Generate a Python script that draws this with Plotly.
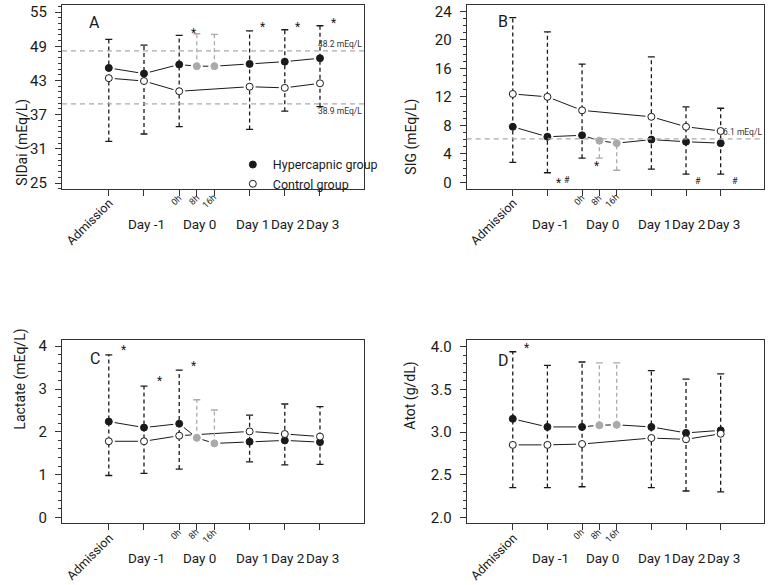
import plotly.graph_objects as go

# time points: Admission, Day -1, Day 0 (0h, 8h, 16h), Day 1, Day 2, Day 3
pos_x = [0, 1, 2, 2.5, 3, 4, 5, 6]
gray_idx = [3, 4]  # 8h and 16h, hypercapnic only

# A - SIDai (mEq/L)
sidai_hyp = [45.2, 44.2, 45.8, 45.5, 45.5, 45.9, 46.3, 46.9]
sidai_ctl = [43.4, 42.9, 41.1, None, None, 41.9, 41.7, 42.5]
sidai_hi = [50.2, 49.2, 50.9, 51.2, 51.1, 51.7, 51.9, 52.6]
sidai_lo = [32.3, 33.6, 34.9, 45.5, 45.5, 34.4, 37.6, 38.4]
sidai_ref = [48.2, 38.9]

# B - SIG (mEq/L)
sig_hyp = [7.8, 6.4, 6.6, 5.85, 5.5, 6.0, 5.7, 5.5]
sig_ctl = [12.4, 12.0, 10.1, None, None, 9.2, 7.8, 7.2]
sig_hi = [23.1, 21.1, 16.6, 5.85, 5.5, 17.6, 10.6, 10.4]
sig_lo = [2.8, 1.35, 3.4, 3.4, 1.7, 1.85, 1.15, 1.15]
sig_ref = [6.1]

# C - Lactate (mEq/L)
lac_hyp = [2.24, 2.10, 2.19, 1.86, 1.73, 1.77, 1.80, 1.76]
lac_ctl = [1.78, 1.78, 1.91, None, None, 2.01, 1.95, 1.89]
lac_hi = [3.80, 3.07, 3.44, 2.75, 2.51, 2.39, 2.65, 2.59]
lac_lo = [0.98, 1.03, 1.13, 1.86, 1.73, 1.30, 1.23, 1.24]

# D - Atot (g/dL)
atot_hyp = [3.155, 3.06, 3.06, 3.08, 3.085, 3.06, 2.99, 3.02]
atot_ctl = [2.85, 2.85, 2.86, None, None, 2.93, 2.915, 2.98]
atot_hi = [3.94, 3.78, 3.82, 3.81, 3.81, 3.72, 3.62, 3.68]
atot_lo = [2.35, 2.35, 2.36, 3.08, 3.085, 2.35, 2.31, 2.30]

# significance marks (symbol, x, y)
marks_a = [("*", 2.4, 51.8), ("*", 4.38, 52.9), ("*", 5.37, 52.9), ("*", 6.38, 53.6)]
marks_b = [("*", 1.31, 0.33), ("#", 1.57, 0.33), ("*", 2.41, 2.65),
           ("#", 5.36, 0.19), ("#", 6.42, 0.19)]
marks_c = [("*", 0.42, 3.98), ("*", 1.43, 3.26), ("*", 2.4, 3.6)]
marks_d = [("*", 0.4, 4.02)]

day_labels = ["Day -1", "Day 0", "Day 1", "Day 2", "Day 3"]
day_label_x = [1, 2.5, 4, 5, 6]
hour_labels = ["0h", "8h", "16h"]
hour_label_x = [2, 2.5, 3]

FONT = "Roboto, Arial, sans-serif"
INK = "#1a1a1a"
GRAY = "#aaaaaa"

fig = go.Figure()


def add_panel(n, letter, title, hyp, ctl, hi, lo, marks, refs, yrange, tick0, dtick, minor,
              letter_xy, title_x, legend=False, ref_below=None):
    xa = "x" if n == 1 else "x%d" % n
    ya = "y" if n == 1 else "y%d" % n
    main_idx = [i for i in range(len(pos_x)) if i not in gray_idx]

    # connecting lines
    fig.add_trace(go.Scatter(x=pos_x, y=hyp, mode="lines", line=dict(color=INK, width=1),
                             xaxis=xa, yaxis=ya, showlegend=False, hoverinfo="skip"))
    fig.add_trace(go.Scatter(x=pos_x, y=ctl, mode="lines", connectgaps=True,
                             line=dict(color=INK, width=1),
                             xaxis=xa, yaxis=ya, showlegend=False, hoverinfo="skip"))
    # white halo so lines stop short of the points
    halo_x = pos_x + [pos_x[i] for i in range(len(pos_x)) if ctl[i] is not None]
    halo_y = hyp + [c for c in ctl if c is not None]
    fig.add_trace(go.Scatter(x=halo_x, y=halo_y, mode="markers",
                             marker=dict(color="white", size=12),
                             xaxis=xa, yaxis=ya, showlegend=False, hoverinfo="skip"))

    # whiskers
    for idx, col in ((main_idx, INK), (gray_idx, GRAY)):
        wx, wy = [], []
        for i in idx:
            wx += [pos_x[i], pos_x[i], None]
            wy += [lo[i], hi[i], None]
        fig.add_trace(go.Scatter(x=wx, y=wy, mode="lines",
                                 line=dict(color=col, width=1.3, dash="4px,3px"),
                                 xaxis=xa, yaxis=ya, showlegend=False, hoverinfo="skip"))
        cx, cy = [], []
        for i in idx:
            for v in (lo[i], hi[i]):
                if v != hyp[i]:
                    cx.append(pos_x[i])
                    cy.append(v)
        fig.add_trace(go.Scatter(x=cx, y=cy, mode="markers",
                                 marker=dict(symbol="line-ew", size=5,
                                             line=dict(color=col, width=1.3)),
                                 xaxis=xa, yaxis=ya, showlegend=False, hoverinfo="skip"))

    # points
    fig.add_trace(go.Scatter(x=[pos_x[i] for i in main_idx], y=[hyp[i] for i in main_idx],
                             mode="markers", name="Hypercapnic group",
                             marker=dict(color=INK, size=7, line=dict(color=INK, width=1)),
                             xaxis=xa, yaxis=ya, showlegend=legend))
    fig.add_trace(go.Scatter(x=[pos_x[i] for i in gray_idx], y=[hyp[i] for i in gray_idx],
                             mode="markers",
                             marker=dict(color=GRAY, size=7, line=dict(color=GRAY, width=1)),
                             xaxis=xa, yaxis=ya, showlegend=False))
    fig.add_trace(go.Scatter(x=pos_x, y=ctl, mode="markers", name="Control group",
                             marker=dict(color="white", size=7, line=dict(color=INK, width=1)),
                             xaxis=xa, yaxis=ya, showlegend=legend))

    # reference lines
    for k, r in enumerate(refs):
        fig.add_shape(type="line", xref=xa + " domain", yref=ya, x0=0, x1=1, y0=r, y1=r,
                      line=dict(color=GRAY, width=1.3, dash="5px,4px"))
        below = ref_below is not None and k in ref_below
        fig.add_annotation(x=1, xref=xa + " domain", y=r, yref=ya, xanchor="right",
                           yanchor="top" if below else "bottom", xshift=0,
                           text="%.1f mEq/L" % r, showarrow=False,
                           font=dict(family=FONT, size=8.5, color="#333"))

    # significance marks
    for s, mx, my in marks:
        fig.add_annotation(x=mx, y=my, xref=xa, yref=ya, text=s, showarrow=False,
                           yshift=-3 if s == "*" else 0,
                           font=dict(family=FONT, size=12 if s == "*" else 9, color=INK))

    # panel letter
    fig.add_annotation(x=letter_xy[0], y=letter_xy[1], xref=xa, yref=ya, text=letter,
                       showarrow=False, font=dict(family=FONT, size=16, color=INK))

    # x labels
    fig.add_annotation(x=pos_x[0], y=0, xref=xa, yref=ya + " domain", text="Admission",
                       textangle=-45, xanchor="right", yanchor="top", xshift=10, yshift=-4,
                       showarrow=False, font=dict(family=FONT, size=12.5, color=INK))
    for t, hx in zip(hour_labels, hour_label_x):
        fig.add_annotation(x=hx, y=0, xref=xa, yref=ya + " domain", text=t,
                           textangle=-45, xanchor="right", yanchor="top", xshift=7, yshift=-1,
                           showarrow=False, font=dict(family=FONT, size=9, color=INK))
    for t, dx in zip(day_labels, day_label_x):
        fig.add_annotation(x=dx, y=0, xref=xa, yref=ya + " domain", text=t,
                           xanchor="center", yanchor="middle", xshift=3, yshift=-35,
                           showarrow=False, font=dict(family=FONT, size=13.5, color=INK))

    # y title
    dom = fig.layout[("yaxis" if n == 1 else "yaxis%d" % n)].domain
    fig.add_annotation(x=title_x / 771, y=(dom[0] + dom[1]) / 2, xref="paper", yref="paper",
                       text=title, textangle=-90, showarrow=False,
                       font=dict(family=FONT, size=14, color=INK))

    axis_common = dict(showline=True, linecolor="#333", linewidth=1, mirror=True,
                       showgrid=False, zeroline=False, ticks="outside", ticklen=6,
                       tickcolor="#333", tickwidth=1, fixedrange=True)
    fig.update_layout({
        ("xaxis" if n == 1 else "xaxis%d" % n): dict(
            range=[-1.33, 7.25], tickvals=pos_x, ticktext=[""] * len(pos_x),
            **axis_common),
        ("yaxis" if n == 1 else "yaxis%d" % n): dict(
            range=yrange, dtick=dtick, tick0=tick0,
            tickformat=".1f" if dtick < 1 else "d",
            ticklabelstandoff=5,
            tickfont=dict(family=FONT, size=15, color=INK),
            minor=dict(dtick=minor, tick0=tick0, ticklen=3, ticks="outside",
                       tickcolor="#333"),
            **axis_common),
    })


fig.update_layout(
    width=771, height=585, margin=dict(l=0, r=0, t=0, b=0),
    paper_bgcolor="white", plot_bgcolor="white",
    xaxis=dict(domain=[0.0804, 0.4721], anchor="y"),
    yaxis=dict(domain=[0.6781, 0.9954], anchor="x"),
    xaxis2=dict(domain=[0.6053, 0.9909], anchor="y2"),
    yaxis2=dict(domain=[0.6781, 0.9954], anchor="x2"),
    xaxis3=dict(domain=[0.0804, 0.4721], anchor="y3"),
    yaxis3=dict(domain=[0.1009, 0.4176], anchor="x3"),
    xaxis4=dict(domain=[0.6053, 0.9909], anchor="y4"),
    yaxis4=dict(domain=[0.1009, 0.4176], anchor="x4"),
    legend=dict(x=0.302, y=0.745, xanchor="left", yanchor="top", bgcolor="rgba(0,0,0,0)",
                font=dict(family=FONT, size=12.5, color=INK), tracegroupgap=0,
                itemwidth=30),
    font=dict(family=FONT),
)

add_panel(1, "A", "SIDai (mEq/L)", sidai_hyp, sidai_ctl, sidai_hi, sidai_lo, marks_a,
          sidai_ref, [24.0, 56.3], 25, 6, 1, (-0.41, 53.1), 12, legend=True, ref_below=[1])
add_panel(2, "B", "SIG (mEq/L)", sig_hyp, sig_ctl, sig_hi, sig_lo, marks_b,
          sig_ref, [-0.89, 24.93], 0, 4, 1, (-0.27, 22.5), 412)
add_panel(3, "C", "Lactate (mEq/L)", lac_hyp, lac_ctl, lac_hi, lac_lo, marks_c,
          [], [-0.14, 4.15], 0, 1, 0.2, (-0.39, 3.71), 10)
add_panel(4, "D", "Atot (g/dL)", atot_hyp, atot_ctl, atot_hi, atot_lo, marks_d,
          [], [1.93, 4.08], 0, 0.5, 0.1, (-0.27, 3.84), 411)

# the page body has a default 8px margin; drop it so the figure fills the window
fig.write_html("out.html", config={"displayModeBar": False},
               post_script="document.body.style.margin = '0px';")
